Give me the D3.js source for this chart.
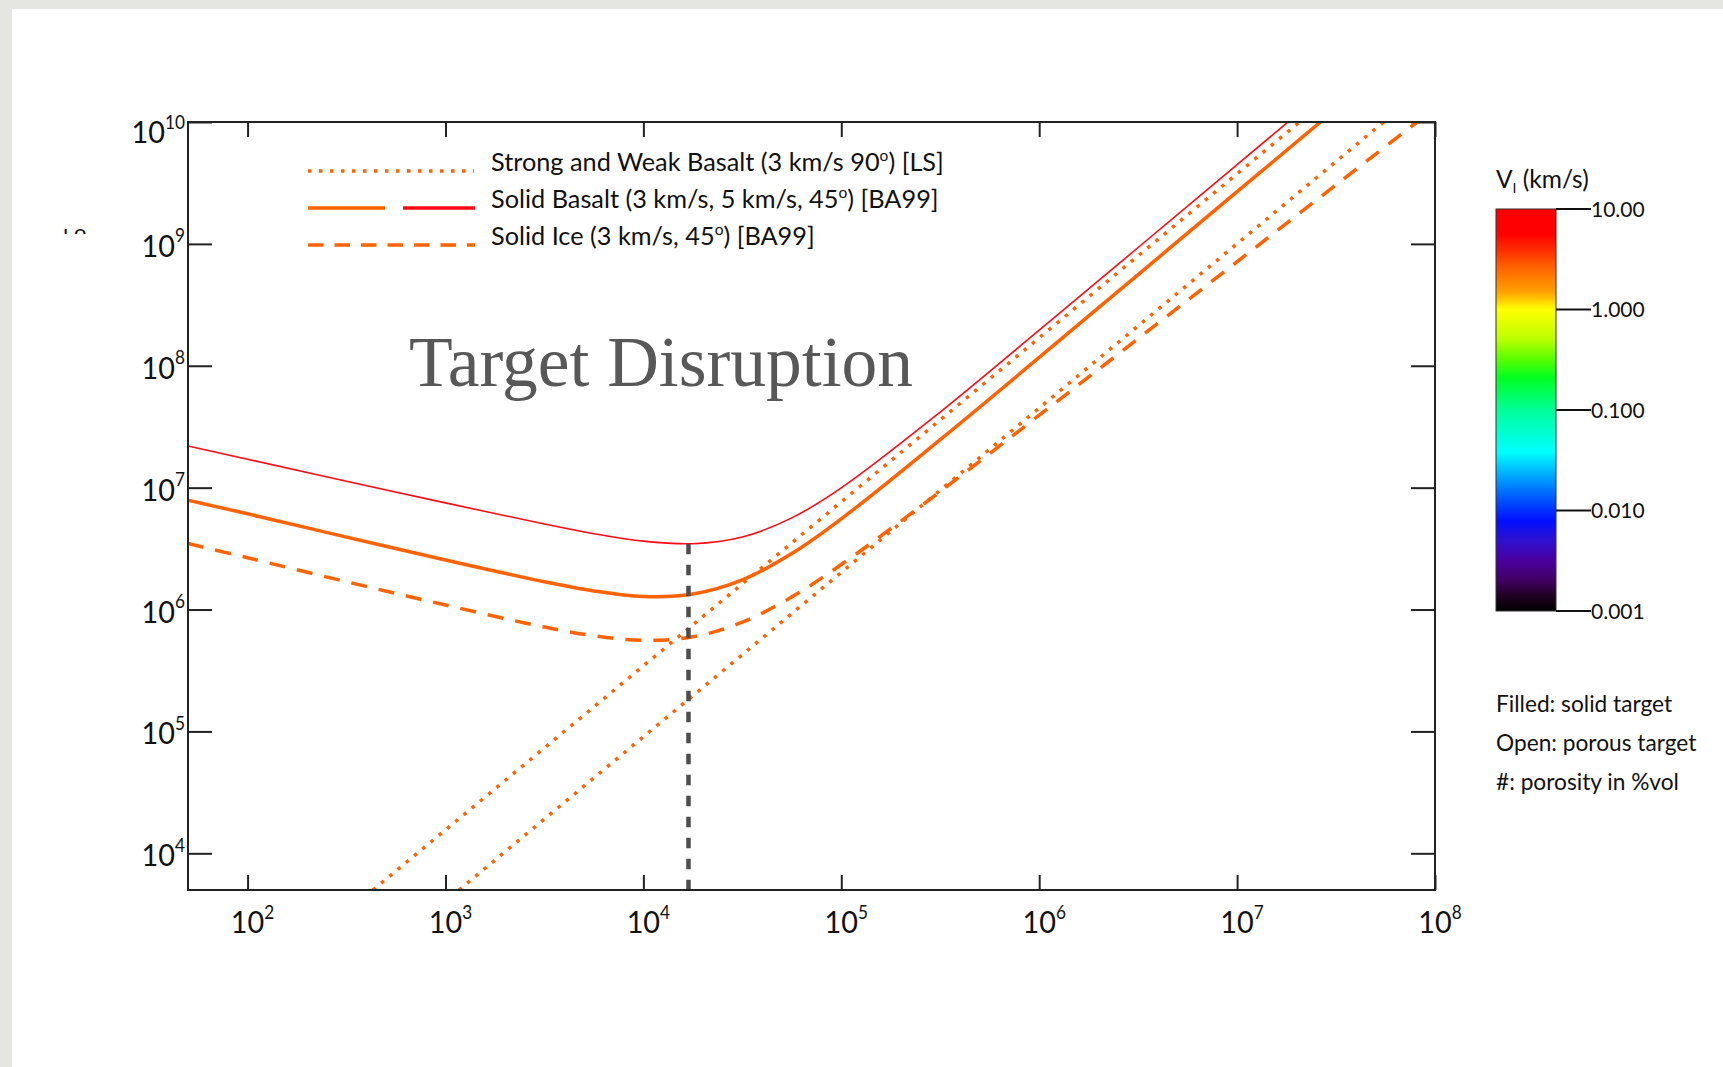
<!DOCTYPE html>
<html>
<head>
<meta charset="utf-8">
<script src="https://cdn.jsdelivr.net/npm/d3@7"></script>
<style>
  html, body { margin: 0; padding: 0; background: #fff; }
  svg { display: block; }
  text { font-family: Lato, "Open Sans", "DejaVu Sans", sans-serif; fill: #111; }
</style>
</head>
<body>
<div id="chart"></div>
<script>
// ─── Data ────────────────────────────────────────────────────────────────────
// Target radius in cm (x) and specific disruption energy Q* in erg/g (y).
var radius        = [50, 100, 316, 1000, 3162, 5623, 1e4, 17780, 31620, 56230, 1e5, 316200, 1e6, 3162000, 1e7, 31620000, 1e8];
var basalt3kms    = [7.9e6, 6.1e6, 3.93e6, 2.55e6, 1.69e6, 1.42e6, 1.28e6, 1.34e6, 1.75e6, 2.88e6, 5.55e6, 2.48e7, 1.17e8, 5.6e8, 2.68e9, 1.28e10, null];
var basalt5kms    = [2.2e7, 1.71e7, 1.13e7, 7.5e6, 5.03e6, 4.19e6, 3.64e6, 3.47e6, 3.94e6, 5.65e6, 9.95e6, 4.17e7, 1.96e8, 9.34e8, 4.47e9, 2.14e10, null];
var ice3kms       = [3.48e6, 2.66e6, 1.69e6, 1.09e6, 7.18e5, 6.09e5, 5.59e5, 5.97e5, 7.87e5, 1.27e6, 2.34e6, 9.3e6, 3.93e7, 1.67e8, 7.14e8, 3.05e9, 1.3e10];

// Strong / weak basalt [LS] straight lines (where they cross the frame).
var lsStrongR = [430, 2.07e7];
var lsStrongQ = [5000, 1e10];
var lsWeakR   = [1170, 5.5e7];
var lsWeakQ   = [5000, 1e10];

// Transition radius marker.
var transitionR    = 1.69e4;
var transitionQTop = 3.47e6;

var xTicks = [1e2, 1e3, 1e4, 1e5, 1e6, 1e7, 1e8];
var yTicks = [1e4, 1e5, 1e6, 1e7, 1e8, 1e9, 1e10];

// Colour bar (impact velocity, km/s).
var cbarTicks      = [0.001, 0.01, 0.1, 1, 10];
var cbarLabels     = ['0.001', '0.010', '0.100', '1.000', '10.00'];
var cbarStopValues = [10, 5.6, 3.8, 2.6, 1.5, 1, 0.52, 0.33, 0.21, 0.1, 0.038, 0.021, 0.0126, 0.0079, 0.005, 0.0032, 0.002, 0.0014, 0.001];
var cbarStopColors = ['#ff0000', '#ff0000', '#ff3000', '#ff6400', '#ffa000', '#ffff00', '#c0ff00', '#60ff00', '#00ff20', '#00ff99', '#00ffff', '#00a0ff', '#0050ff', '#0010ff', '#3010d0', '#4a00a0', '#400060', '#200020', '#000000'];

var legendLabels = [
	['Strong and Weak Basalt (3 km/s 90', 'o', ') [LS]'],
	['Solid Basalt (3 km/s, 5 km/s, 45', 'o', ') [BA99]'],
	['Solid Ice (3 km/s, 45', 'o', ') [BA99]']
];
var notes = ['Filled: solid target', 'Open: porous target', '#: porosity in %vol'];

// ─── Style ───────────────────────────────────────────────────────────────────
var COLORS = {
	orange: '#ff6200',
	red:    '#ff0a14',
	marker: '#4d4d4d',
	frame:  '#222',
	title:  '#585858'
};

var W = 1723, H = 1067;
var margin = { top: 122, left: 188 };
var iw = 1247, ih = 768;

var svg = d3.select('#chart').append('svg')
	.attr('width', W)
	.attr('height', H);

// Slide background.
svg.append('rect').attr('width', W).attr('height', H).attr('fill', '#e5e5e1');
svg.append('rect').attr('x', 12).attr('y', 9).attr('width', W - 12).attr('height', H - 9).attr('fill', '#fff');

var defs = svg.append('defs');
defs.append('clipPath').attr('id', 'plot-clip')
	.append('rect').attr('width', iw).attr('height', ih);

var g = svg.append('g').attr('transform', 'translate(' + margin.left + ',' + margin.top + ')');

var x = d3.scaleLog().domain([50, 1e8]).range([0, iw]);
var y = d3.scaleLog().domain([5000, 1e10]).range([ih, 0]);

// ─── Axes (ticks inward on all four sides) ───────────────────────────────────
function styleAxis(s) {
	s.select('.domain').remove();
	s.selectAll('line').attr('stroke', COLORS.frame).attr('stroke-width', 2);
}
g.append('g').attr('transform', 'translate(0,' + ih + ')')
	.call(d3.axisBottom(x).tickValues(xTicks).tickSize(-15).tickSizeOuter(0).tickFormat(''))
	.call(styleAxis);
g.append('g')
	.call(d3.axisTop(x).tickValues(xTicks).tickSize(-15).tickSizeOuter(0).tickFormat(''))
	.call(styleAxis);
g.append('g')
	.call(d3.axisLeft(y).tickValues(yTicks).tickSize(-24).tickSizeOuter(0).tickFormat(''))
	.call(styleAxis);
g.append('g').attr('transform', 'translate(' + iw + ',0)')
	.call(d3.axisRight(y).tickValues(yTicks).tickSize(-24).tickSizeOuter(0).tickFormat(''))
	.call(styleAxis);

// Power-of-ten labels (slightly condensed, like the original face).
var LAB_FS = 31, SUP_FS = 18.5, SQUEEZE = 0.93;
var probe = g.append('text').attr('font-size', LAB_FS).text('10');
var tenW = probe.node().getComputedTextLength() * SQUEEZE;
probe.remove();

function powText(sel, d) {
	var e = Math.round(Math.log10(d));
	sel.append('tspan').text('10');
	sel.append('tspan').attr('dy', -14.5).attr('font-size', SUP_FS).text(e);
}

g.selectAll('text.xlab')
	.data(xTicks)
	.join('text')
	.attr('class', 'xlab')
	.attr('transform', function (d) {
		return 'translate(' + (x(d) - tenW / 2) + ',' + (ih + 43) + ') scale(' + SQUEEZE + ',1)';
	})
	.attr('font-size', LAB_FS)
	.each(function (d) { powText(d3.select(this), d); });

g.selectAll('text.ylab')
	.data(yTicks)
	.join('text')
	.attr('class', 'ylab')
	.attr('transform', function (d) {
		return 'translate(-3,' + Math.max(y(d) + 13, 21) + ') scale(' + SQUEEZE + ',1)';
	})
	.attr('text-anchor', 'end')
	.attr('font-size', LAB_FS)
	.each(function (d) { powText(d3.select(this), d); });

// ─── Curves ──────────────────────────────────────────────────────────────────
function pairs(xs, ys) { return xs.map(function (v, i) { return [v, ys[i]]; }); }

var smooth = d3.line()
	.defined(function (d) { return d[1] != null; })
	.x(function (d) { return x(d[0]); })
	.y(function (d) { return y(d[1]); })
	.curve(d3.curveCatmullRom.alpha(0.5));

var straight = d3.line()
	.x(function (d) { return x(d[0]); })
	.y(function (d) { return y(d[1]); });

var plot = g.append('g').attr('clip-path', 'url(#plot-clip)');

[pairs(lsStrongR, lsStrongQ), pairs(lsWeakR, lsWeakQ)].forEach(function (pts) {
	plot.append('path')
		.datum(pts)
		.attr('fill', 'none')
		.attr('stroke', COLORS.orange)
		.attr('stroke-width', 3.5)
		.attr('stroke-dasharray', '3.5,7.2')
		.attr('d', straight);
});

plot.append('path')
	.datum(pairs(radius, ice3kms))
	.attr('fill', 'none')
	.attr('stroke', COLORS.orange)
	.attr('stroke-width', 3.5)
	.attr('stroke-dasharray', '16,12')
	.attr('d', smooth);

plot.append('path')
	.datum(pairs(radius, basalt3kms))
	.attr('fill', 'none')
	.attr('stroke', COLORS.orange)
	.attr('stroke-width', 3.5)
	.attr('d', smooth);

plot.append('path')
	.datum(pairs(radius, basalt5kms))
	.attr('fill', 'none')
	.attr('stroke', COLORS.red)
	.attr('stroke-width', 1.6)
	.attr('d', smooth);

plot.append('line')
	.attr('x1', x(transitionR)).attr('x2', x(transitionR))
	.attr('y1', y(transitionQTop)).attr('y2', ih)
	.attr('stroke', COLORS.marker)
	.attr('stroke-width', 4.5)
	.attr('stroke-dasharray', '10.5,10.5');

// Frame.
g.append('rect')
	.attr('width', iw).attr('height', ih)
	.attr('fill', 'none')
	.attr('stroke', COLORS.frame)
	.attr('stroke-width', 2);

// ─── Legend ──────────────────────────────────────────────────────────────────
var lg = svg.append('g');
var rowY = [171, 208, 245];
lg.append('line').attr('x1', 308).attr('x2', 474).attr('y1', rowY[0]).attr('y2', rowY[0])
	.attr('stroke', COLORS.orange).attr('stroke-width', 3.5).attr('stroke-dasharray', '3.5,7.5');
lg.append('line').attr('x1', 308).attr('x2', 385).attr('y1', rowY[1]).attr('y2', rowY[1])
	.attr('stroke', COLORS.orange).attr('stroke-width', 3.5);
lg.append('line').attr('x1', 403).attr('x2', 475).attr('y1', rowY[1]).attr('y2', rowY[1])
	.attr('stroke', COLORS.red).attr('stroke-width', 3.5);
lg.append('line').attr('x1', 308).attr('x2', 475).attr('y1', rowY[2]).attr('y2', rowY[2])
	.attr('stroke', COLORS.orange).attr('stroke-width', 3.5).attr('stroke-dasharray', '15.5,11');

lg.selectAll('text')
	.data(legendLabels)
	.join('text')
	.attr('x', 491)
	.attr('y', function (d, i) { return rowY[i]; })
	.attr('font-size', 25.3)
	.each(function (d) {
		var t = d3.select(this);
		t.append('tspan').text(d[0]);
		t.append('tspan').attr('dy', -10).attr('font-size', 15.5).text(d[1]);
		t.append('tspan').attr('dy', 10).text(d[2]);
	});

// Region label.
svg.append('text')
	.attr('x', 409)
	.attr('y', 386)
	.style('font-family', '"Liberation Serif", "DejaVu Serif", serif')
	.style('fill', COLORS.title)
	.attr('font-size', 71.5)
	.text('Target Disruption');

// Clipped remnant of the y-axis title at the slide edge.
defs.append('clipPath').attr('id', 'stub-clip')
	.append('rect').attr('x', 55).attr('y', 227).attr('width', 40).attr('height', 7);
svg.append('text')
	.attr('clip-path', 'url(#stub-clip)')
	.attr('x', 63)
	.attr('y', 240)
	.attr('font-size', 22)
	.text('ı o');

// ─── Colour bar ──────────────────────────────────────────────────────────────
var cbX = 1496, cbY = 209, cbW = 60, cbH = 402;
var cb = d3.scaleLog().domain([0.001, 10]).range([cbH, 0]);

var grad = defs.append('linearGradient')
	.attr('id', 'vel-grad')
	.attr('x1', 0).attr('y1', 0).attr('x2', 0).attr('y2', 1);
grad.selectAll('stop')
	.data(cbarStopValues)
	.join('stop')
	.attr('offset', function (d) { return cb(d) / cbH; })
	.attr('stop-color', function (d, i) { return cbarStopColors[i]; });

var cbg = svg.append('g').attr('transform', 'translate(' + cbX + ',' + cbY + ')');
cbg.append('rect')
	.attr('width', cbW).attr('height', cbH)
	.attr('fill', 'url(#vel-grad)')
	.attr('stroke', '#333')
	.attr('stroke-width', 1);

cbg.selectAll('line.cbt')
	.data(cbarTicks)
	.join('line')
	.attr('class', 'cbt')
	.attr('x1', cbW).attr('x2', cbW + 35)
	.attr('y1', function (d) { return cb(d); })
	.attr('y2', function (d) { return cb(d); })
	.attr('stroke', '#111')
	.attr('stroke-width', 2);

cbg.selectAll('text.cbl')
	.data(cbarTicks)
	.join('text')
	.attr('class', 'cbl')
	.attr('x', cbW + 35)
	.attr('y', function (d) { return cb(d) + 7.5; })
	.attr('font-size', 21)
	.text(function (d, i) { return cbarLabels[i]; });

var cbTitle = svg.append('text').attr('x', cbX).attr('y', 188).attr('font-size', 24.5);
cbTitle.append('tspan').text('V');
cbTitle.append('tspan').attr('dy', 5).attr('font-size', 14).text('I');
cbTitle.append('tspan').attr('dy', -5).text(' (km/s)');

// Notes.
svg.selectAll('text.note')
	.data(notes)
	.join('text')
	.attr('class', 'note')
	.attr('x', cbX)
	.attr('y', function (d, i) { return 712 + i * 39; })
	.attr('font-size', 22.7)
	.text(function (d) { return d; });
</script>
</body>
</html>
